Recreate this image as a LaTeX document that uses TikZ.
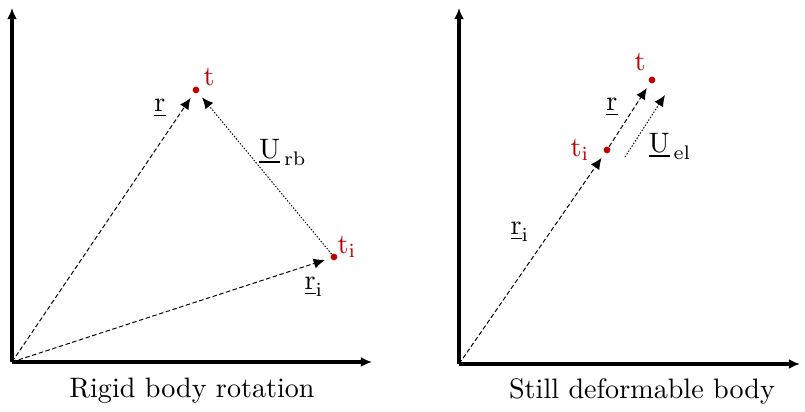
\documentclass[tikz,border=0pt]{standalone}
\usetikzlibrary{positioning}
\usetikzlibrary{arrows.meta}

\begin{document}
\begin{tikzpicture}[
        x = 0.0125cm, y = -0.0125cm, % pixel grid
        > = {Latex[length=4pt, width=3.6pt]}, % arrow head style
        axis/.style = {->, line width=1.1pt},
        vec/.style = {->, dash pattern=on 1.6pt off 0.9pt, line width=0.35pt, shorten > = 2pt},
        disp/.style = {->, dash pattern=on 0.5pt off 0.6pt, line width=0.35pt},
        pt/.style = {circle, fill=red!75!black, inner sep=0pt, minimum size=2.4pt},
        lbl/.style = {inner sep=1pt},
        ptlbl/.style = {text=red!75!black, inner sep=1pt}
        ]

  \useasboundingbox (0,0) rectangle (805,412);

  % rigid body rotation
  \coordinate (o1) at (12,362);
  \coordinate (yend1) at (12,8);
  \coordinate (xend1) at (372,362);
  \draw[axis] (o1) -- (yend1);
  \draw[axis] (o1) -- (xend1);

  \node[pt] (t1) at (196,90) {};
  \node[pt] (ti1) at (334,257) {};

  \draw[vec] (o1) -- (t1);
  \draw[vec] (o1) -- (ti1);
  \draw[disp, shorten > = 2pt] (ti1) -- (t1);

  \node[ptlbl] (tlbl1) at (209,77) {t};
  \node[ptlbl] (tilbl1) at (347,247) {$\mathrm{t_i}$};
  \node[lbl] (r1) at (160,108) {$\underline{\mathrm{r}}$};
  \node[lbl] (urb) at (283,152) {$\underline{\mathrm{U}}_{\,\mathrm{rb}}$};
  \node[lbl] (ri1) at (314,287) {$\underline{\mathrm{r}}_{\mathrm{i}}$};

  \node (cap1) at (192,391) {Rigid body rotation};

  % still deformable body
  \coordinate (o2) at (459,364);
  \coordinate (yend2) at (459,8);
  \coordinate (xend2) at (800,364);
  \draw[axis] (o2) -- (yend2);
  \draw[axis] (o2) -- (xend2);

  \node[pt] (t2) at (652,80) {};
  \node[pt] (ti2) at (607,150) {};

  \draw[vec] (o2) -- (ti2);
  \draw[vec] (ti2) -- (t2);
  \coordinate (ustart) at (625,157);
  \coordinate (uend) at (665,95);
  \draw[disp] (ustart) -- (uend);

  \node[ptlbl] (tlbl2) at (640,62) {t};
  \node[ptlbl] (tilbl2) at (580,150) {$\mathrm{t_i}$};
  \node[lbl] (r2) at (612,107) {$\underline{\mathrm{r}}$};
  \node[lbl] (uel) at (670,146) {$\underline{\mathrm{U}}_{\,\mathrm{el}}$};
  \node[lbl] (ri2) at (520,232) {$\underline{\mathrm{r}}_{\mathrm{i}}$};

  \node (cap2) at (642,391) {Still deformable body};

\end{tikzpicture}
\end{document}
